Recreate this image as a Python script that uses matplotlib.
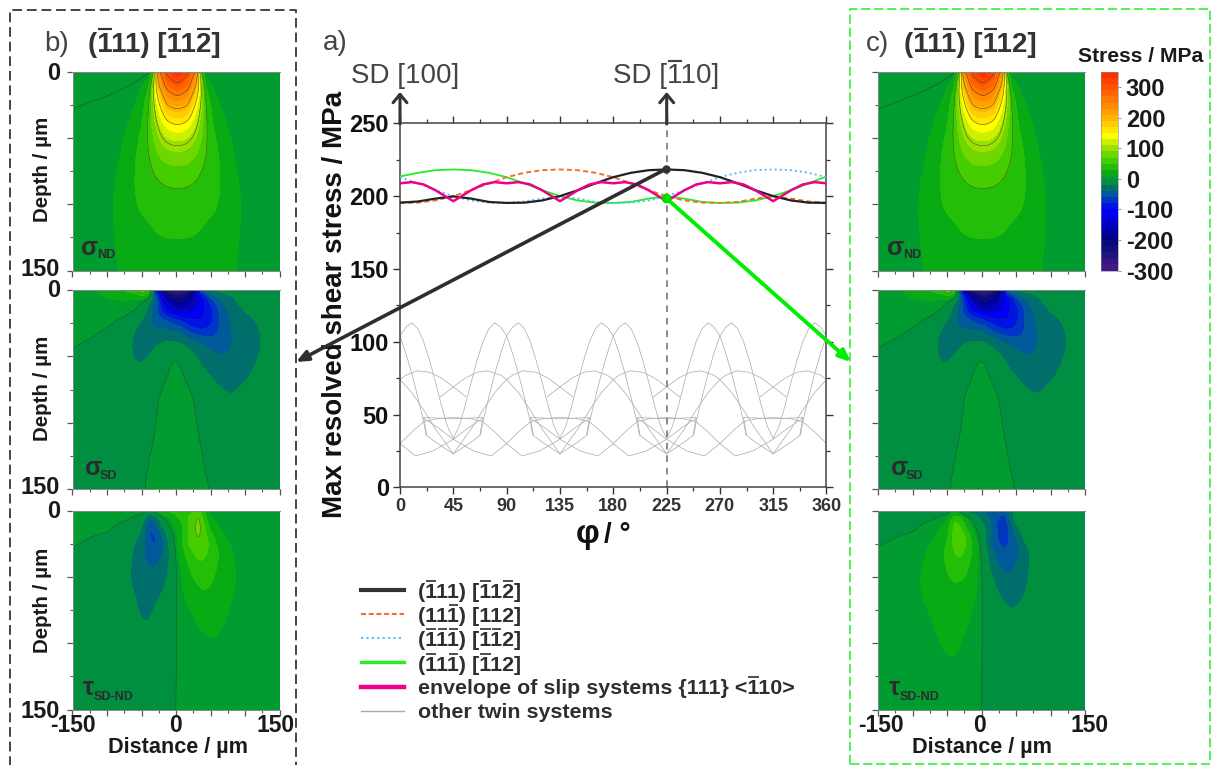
import numpy as np
import matplotlib
matplotlib.use('Agg')
import matplotlib.pyplot as plt
from matplotlib.colors import LinearSegmentedColormap, BoundaryNorm, ListedColormap
from matplotlib.patches import FancyArrowPatch
from matplotlib.lines import Line2D
from matplotlib.ticker import MultipleLocator, NullFormatter

plt.rcParams['font.family'] = ['Liberation Sans', 'DejaVu Sans']

W, H = 1211, 765

# ---------- central chart data ----------
phi = [0, 15, 30, 45, 60, 75, 90, 105, 120, 135, 150, 165, 180, 195, 210, 225, 240, 255, 270, 285, 300, 315, 330, 345, 360]
sys_black = [195.5, 196.3, 198.3, 199.8, 198.3, 196, 195.3, 195.5, 197, 200, 204, 208.8, 213, 216, 217.8, 218.3, 217.8, 216, 213, 208.8, 204, 200, 197, 195.5, 195.3]
sys_orange = [195.3, 195.5, 197, 200, 204, 208.8, 213, 216, 217.8, 218.3, 217.8, 216, 213, 208.8, 204, 200, 197, 195.5, 195.3, 196, 198.3, 199.8, 198.3, 196.3, 195.5]
sys_blue = [213, 208.8, 204, 200, 197, 195.5, 195.3, 196.3, 198.3, 199.8, 198.3, 196, 195.3, 195.5, 197, 200, 204, 208.8, 213, 216, 217.8, 218.3, 217.8, 216, 213]
sys_green = [213.5, 216, 217.8, 218.3, 217.8, 216, 213, 208.8, 204, 200, 197, 195.5, 195.3, 196, 198.3, 199.8, 198.3, 196, 195.3, 195.5, 197, 200, 204, 208.8, 213.5]

phi_env = [0, 10, 20, 30, 45, 60, 70, 80, 90, 100, 110, 120, 135, 150, 160, 170, 180, 190, 200, 210, 225, 240, 250, 260, 270, 280, 290, 300, 315, 330, 340, 350, 360]
envelope = [208.8, 209.6, 208, 204, 196.5, 204, 208, 209.6, 208.8, 209.6, 208, 204, 196.5, 204, 208, 209.6, 208.8, 209.6, 208, 204, 196.5, 204, 208, 209.6, 208.8, 209.6, 208, 204, 196.5, 204, 208, 209.6, 208.8]

# other twin systems: one repeating 90-degree window of the grey pattern
tile_offsets = [-90, 0, 90, 180, 270]
lobe_a_phi = [45, 50, 55, 60, 65, 70, 75, 80, 85, 90, 95, 100, 105, 110, 112, 120, 135]
lobe_a_val = [33.6, 42, 56, 72, 87, 100, 109, 113, 110, 104, 92, 78, 62, 45, 36, 31, 23]
lobe_b_phi = [45, 60, 68, 70, 75, 80, 85, 90, 95, 100, 105, 110, 115, 120, 125, 130, 135]
lobe_b_val = [23, 31, 36, 45, 62, 78, 92, 104, 110, 113, 109, 100, 87, 72, 56, 42, 33.6]
arch_c_phi = [34, 45, 55, 65, 74, 85, 90, 100, 110, 120, 128, 135]
arch_c_val = [62, 69, 75, 79, 80, 77, 74, 65, 53, 40, 31, 23]
arch_d_phi = [45, 52, 60, 70, 80, 90, 95, 104, 115, 125, 135, 146]
arch_d_val = [23, 31, 40, 53, 65, 74, 77, 80, 79, 75, 69, 62]
low_phi = [-70, -58, -45, -28, -13, 0, 10, 20, 30, 45, 60, 70, 80, 90, 103, 118, 135, 148, 160]
low_val = [47.5, 41, 33, 25, 21.5, 30, 38, 45, 47, 48, 47, 45, 38, 30, 21.5, 25, 33, 41, 47.5]
flat_phi = [22.5, 20, 45, 70, 67.5]
flat_val = [36, 48, 47, 48, 36]

# ---------- stress maps (MPa): rows = depth, columns = distance ----------
nd_x = [-150, -100, -73, -53, -40, -34, -26, -13, 2, 17, 30, 38, 44, 57, 77, 102, 150]
nd_d = [0, 4, 9, 15, 20, 30, 40, 55, 70, 87, 105, 125, 150]
sigma_nd = [
    [3, 3, 3, 3, 3, 20, 240, 310, 345, 310, 240, 20, 3, 3, 3, 3, 3],
    [3, 3, 3, 4, 5, 50, 215, 295, 325, 295, 215, 50, 5, 4, 3, 3, 3],
    [3, 3, 3, 5, 15, 70, 200, 275, 298, 275, 200, 70, 15, 5, 3, 3, 3],
    [3, 3, 4, 7.5, 28, 85, 175, 245, 268, 245, 175, 85, 28, 7.5, 4, 3, 3],
    [3, 3, 4.5, 10, 38, 85, 155, 225, 242, 225, 155, 85, 38, 10, 4.5, 3, 3],
    [3, 3, 5.5, 14, 46, 80, 125, 180, 190, 180, 125, 80, 46, 14, 5.5, 3, 3],
    [3, 3, 7, 22, 50, 72, 105, 140, 150, 140, 105, 72, 50, 22, 7, 3, 3],
    [3, 4, 10.5, 33, 50, 62, 80, 96, 100, 96, 80, 62, 50, 33, 10.5, 4, 3],
    [3, 5, 13, 38, 46, 52, 60, 68, 70, 68, 60, 52, 46, 38, 13, 5, 3],
    [3, 6, 16, 38, 40, 42, 46, 49, 50, 49, 46, 42, 40, 38, 16, 6, 3],
    [3, 6, 18, 31, 33, 34, 36, 38, 39, 38, 36, 34, 33, 31, 18, 6, 3],
    [3, 6, 15.5, 22, 25, 28, 29, 30, 30, 30, 29, 28, 25, 22, 15.5, 6, 3],
    [3, 6, 12.5, 17, 19, 21, 22, 22, 22, 22, 22, 21, 19, 17, 12.5, 6, 3],
]
nd_line_x = [-150, -95, -61, -37]
nd_line_d = [28, 17, 8.5, 0]

sd_x = [-150, -115, -95, -73, -57, -47, -38, -28, -13, 2, 17, 30, 38, 50, 62, 80, 100, 117, 150]
sd_d = [0, 5, 10, 15, 22, 30, 38, 48, 60, 70, 80, 100, 125, 150]
sigma_sd = [
    [5, 10, 20, 35, 55, 90, 30, -120, -270, -300, -270, -150, -30, -15, -12, -8, -5, -4, -3],
    [4, 7, 12, 14, 12, 20, 2, -60, -190, -240, -210, -150, -110, -55, -35, -22, -12, -8, -4],
    [3, 5, 6, 7, 3, -8, -25, -50, -140, -190, -170, -135, -115, -80, -50, -24, -15, -10, -6],
    [2.5, 4, 4, 3, 0, -12, -30, -60, -110, -150, -140, -120, -105, -90, -62, -32, -18, -12, -7],
    [2.5, 2, 1.5, -1, -8, -22, -38, -50, -60, -75, -95, -103, -103, -90, -60, -38, -26, -19, -8],
    [2, 0.7, -0.5, -8, -24, -38, -41, -38, -38, -42, -65, -82, -85, -78, -60, -40, -30, -22, -8],
    [1, -0.5, -4, -14, -26, -30, -30, -23, -20, -20, -28, -36, -42, -52, -58, -41, -30, -23, -9],
    [-0.5, -3, -6, -16, -24, -24, -20, -13, -2, 3, -10, -20, -25, -33, -38, -40, -30, -22, -10],
    [-2, -4, -7, -13, -19, -17, -13, -8, -0.5, 3, -4, -15, -20, -24, -32, -36, -28, -17, -9],
    [-2, -4, -7, -10, -12, -10, -7, -2, 1, 4, 0.5, -4, -8, -15, -21, -24, -18, -13, -8],
    [-2, -4, -6, -8, -10, -8, -5, -0.5, 3, 5, 2, -1, -5, -11, -16, -20, -15, -11, -7],
    [-2, -3, -5, -6, -7, -5, -3, 0.5, 4, 6, 4, 0, -2.5, -7, -10, -12, -10, -8, -5],
    [-2, -3, -4, -5, -5, -2, 0.2, 2, 5, 7, 5, 2.5, 0.2, -3, -6, -8, -7, -6, -4],
    [-2, -3, -4, -4, -2, 0, 1.5, 3, 5, 7, 5, 3, 2, 0, -2, -5, -5, -5, -4],
]

tau_x = [-150, -95, -68, -50, -38, -30, -20, -10, 0, 8, 15, 25, 33, 42, 50, 62, 75, 87, 110, 150]
tau_d = [0, 6, 12, 18, 25, 32, 42, 52, 62, 72, 82, 95, 120, 150]
tau_sd_nd = [
    [3, 4, 5, 6, 0, 15, 30, 35, 40, 45, 45, 45, 45, 30, 8, 5, 4, 4, 4, 3],
    [3, 2, 0.5, -5, -45, -35, -5, 5, 25, 35, 45, 62, 75, 35, 9, 6, 5, 4, 3, 3],
    [2, 0.8, -3, -18, -65, -50, -18, 0, 12, 25, 45, 68, 82, 50, 22, 8, 6, 5, 3, 2],
    [1.5, -0.5, -7, -22, -65, -65, -42, -8, 5, 22, 42, 65, 78, 55, 35, 13, 7, 5, 3, 2],
    [0.8, -3, -12, -30, -62, -65, -52, -18, 3, 28, 50, 62, 68, 60, 50, 22, 10, 6, 3, 2],
    [-1, -4, -15, -37, -52, -58, -42, -22, 2, 18, 35, 50, 55, 53, 46, 33, 14, 8, 4, 2],
    [-2, -6, -18, -30, -42, -43, -30, -22, 1, 12, 25, 40, 50, 48, 38, 27, 14, 9, 4, 2],
    [-2, -7, -20, -27, -32, -30, -26, -19, 0.5, 9, 17, 28, 35, 36, 33, 24, 14, 10, 4, 2],
    [-2, -7, -17, -25, -26, -24, -20, -14, 0.3, 7, 12, 20, 27, 30, 28, 21, 13, 9, 4, 2],
    [-2, -6, -13, -24, -24, -20, -15, -9, 0.2, 5, 8, 13, 18, 21, 20, 17, 11, 7, 3, 2],
    [-2, -5, -10, -22, -22, -16, -11, -6, 0.2, 3, 5, 8, 12, 15, 15, 13, 9, 5, 3, 2],
    [-2, -4, -8, -14, -15, -11, -7, -4, 0.2, 2, 3, 5, 7, 9, 10.5, 9, 7, 4, 2, 1.5],
    [-1.5, -3, -5, -7, -7, -6, -4, -2, 0.2, 1, 2, 3, 4, 5, 5, 5, 4, 3, 2, 1],
    [-1, -2, -3, -4, -4, -3, -2, -1, 0.2, 0.7, 1, 1.5, 2, 2.5, 3, 3, 2.5, 2, 1.5, 1],
]

cbar_ticks = [300, 200, 100, 0, -100, -200, -300]
levels = list(range(-300, 1, 20)) + list(range(10, 371, 20))

cmap_stops = [(-300, '#4b1a8c'), (-230, '#101078'), (-190, '#000088'), (-110, '#0000f5'), (-85, '#0018e0'), (-65, '#0040c0'),
              (-50, '#005a9a'), (-30, '#006f6c'), (-10, '#008f40'), (5, '#009c30'), (20, '#08ab14'),
              (50, '#30c800'), (100, '#9be000'), (140, '#ffff00'), (200, '#ffb400'), (280, '#ff6400'), (370, '#ff1400')]
vmin, vmax = cmap_stops[0][0], cmap_stops[-1][0]
ramp = LinearSegmentedColormap.from_list('stress', [((v - vmin) / (vmax - vmin), c) for v, c in cmap_stops], N=1024)
band_mids = [(a + b) / 2 for a, b in zip(levels[:-1], levels[1:])]
cmap = ListedColormap([ramp((m - vmin) / (vmax - vmin)) for m in band_mids])
norm = BoundaryNorm(levels, cmap.N)

fig = plt.figure(figsize=(W / 100, H / 100), dpi=100, facecolor='white')


def axes_px(x0, y0, x1, y1, **kw):
    return fig.add_axes([x0 / W, 1 - y1 / H, (x1 - x0) / W, (y1 - y0) / H], **kw)


GREY = '#555555'
GX = np.linspace(-150, 150, 301)
GD = np.linspace(0, 150, 151)


def blur(z, sigma):
    r = int(4 * sigma)
    k = np.exp(-0.5 * (np.arange(-r, r + 1) / sigma) ** 2)
    k /= k.sum()
    z = np.pad(z, r, mode='reflect')
    z = np.apply_along_axis(lambda v: np.convolve(v, k, mode='same'), 0, z)
    z = np.apply_along_axis(lambda v: np.convolve(v, k, mode='same'), 1, z)
    return z[r:-r, r:-r]


def render_grid(xs, ds, field):
    t = np.asarray(field, float)
    rows = np.array([np.interp(GX, xs, row) for row in t])
    z = np.array([np.interp(GD, ds, col) for col in rows.T]).T
    w = np.clip(GD / 45.0, 0, 1)[:, None]
    return (1 - w) * blur(z, 1.2) + w * blur(z, 6.0)


def draw_map(box, xs, ds, field, lines, extra_line=None):
    ax = axes_px(*box)
    z = render_grid(xs, ds, field)
    ax.contourf(GX, GD, z, levels=levels, cmap=cmap, norm=norm, extend='both', antialiased=False)
    ax.contour(GX, GD, z, levels=sorted(lines), colors='#333333', linewidths=0.45, alpha=0.7)
    if extra_line is not None:
        ax.plot(extra_line[0], extra_line[1], color='#333333', lw=0.45, alpha=0.7)
    ax.set_xlim(-150, 150)
    ax.set_ylim(150, 0)
    ax.xaxis.set_major_locator(MultipleLocator(50))
    ax.xaxis.set_minor_locator(MultipleLocator(25))
    ax.yaxis.set_major_locator(MultipleLocator(50))
    ax.yaxis.set_minor_locator(MultipleLocator(25))
    ax.tick_params(which='major', direction='out', length=4, width=0.9, color=GREY)
    ax.tick_params(which='minor', direction='out', length=2.5, width=0.8, color=GREY)
    for s in ax.spines.values():
        s.set_linewidth(0.7)
        s.set_color('#888888')
    ax.spines['right'].set_visible(False)
    ax.xaxis.set_major_formatter(NullFormatter())
    ax.yaxis.set_major_formatter(NullFormatter())
    return ax


panel_rows = [(72, 270.5), (290, 489), (510.5, 709.5)]
for left, right, sign in [(72.5, 279.5, 1), (878, 1085, -1)]:
    draw_map((left, panel_rows[0][0], right, panel_rows[0][1]), nd_x, nd_d, sigma_nd,
             [50, 100, 150, 200, 250, 300], extra_line=(nd_line_x, nd_line_d))
    draw_map((left, panel_rows[1][0], right, panel_rows[1][1]), sd_x, sd_d, sigma_sd,
             [-250, -200, -150, -100, 0, 50])
    draw_map((left, panel_rows[2][0], right, panel_rows[2][1]), tau_x, tau_d,
             sign * np.asarray(tau_sd_nd, float), [-70 if sign < 0 else 70, 0])

# ---------- colour bar ----------
cax = axes_px(1100.5, 72, 1117.5, 270.5)
sm = plt.cm.ScalarMappable(norm=norm, cmap=cmap)
cb = fig.colorbar(sm, cax=cax, spacing='proportional', drawedges=False, extend='neither')
cb.set_ticks(cbar_ticks)
cb.set_ticklabels([str(t) for t in cbar_ticks])
cb.minorticks_off()
cax.set_ylim(-300, 350)
cax.tick_params(length=2, width=0.6, color='#888888', pad=4)
for lab in cax.get_yticklabels():
    lab.set_fontweight('bold')
    lab.set_fontsize(17)
    lab.set_color('#1a1a1a')
cb.outline.set_linewidth(0.4)
cb.outline.set_edgecolor('#888888')

# ---------- central chart ----------
ax = axes_px(400, 123.3, 826.5, 487.3)
ax.set_xlim(0, 360)
ax.set_ylim(0, 250)
grey_kw = dict(color='#b0b0b0', lw=0.55, zorder=1)
for off in tile_offsets:
    for px, vals in [(lobe_a_phi, lobe_a_val), (lobe_b_phi, lobe_b_val), (arch_c_phi, arch_c_val),
                     (arch_d_phi, arch_d_val), (low_phi, low_val), (flat_phi, flat_val)]:
        ax.plot(np.asarray(px) + off, vals, **grey_kw)
ax.axvline(225, color='#777777', lw=1.2, ls=(0, (4, 3.5)), zorder=2)
ax.plot(phi, sys_green, color='#22ee22', lw=1.3, zorder=3)
ax.plot(phi, sys_blue, color='#55bbff', lw=1.4, ls=(0, (1, 1.6)), zorder=3)
ax.plot(phi, sys_orange, color='#f07030', lw=1.4, ls=(0, (2.6, 1.6)), zorder=3)
ax.plot(phi, sys_black, color='#222222', lw=1.6, zorder=4)
ax.plot(phi_env, envelope, color='#ee0088', lw=1.8, zorder=5)
ax.xaxis.set_major_locator(MultipleLocator(45))
ax.xaxis.set_minor_locator(MultipleLocator(22.5))
ax.yaxis.set_major_locator(MultipleLocator(50))
ax.yaxis.set_minor_locator(MultipleLocator(25))
ax.tick_params(which='major', direction='out', length=5, width=1, color='#333333', top=True, right=True, pad=3)
ax.tick_params(which='minor', direction='out', length=3, width=0.9, color='#333333', top=True, right=True)
for s in ax.spines.values():
    s.set_linewidth(1.1)
    s.set_color('#444444')
for lab in ax.get_xticklabels():
    lab.set_fontsize(13)
    lab.set_color('#333333')
    lab.set_fontweight('bold')
for lab in ax.get_yticklabels():
    lab.set_fontsize(17)
    lab.set_fontweight('bold')
    lab.set_color('#111111')

# ---------- overlay in reference pixels ----------
ov = fig.add_axes([0, 0, 1, 1], zorder=20)
ov.set_xlim(0, W)
ov.set_ylim(H, 0)
ov.axis('off')
ov.patch.set_alpha(0)
renderer = fig.canvas.get_renderer()


def T(x, y, s, size, bold=True, color='#1a1a1a', ha='left', va='center', rot=0):
    return ov.text(x, y, s, fontsize=size, fontweight='bold' if bold else 'normal', color=color,
                   ha=ha, va=va, rotation=rot)


def bar_text(x, base, s, bars, size, bold=True, color='#2e2e2e', gap=2.5):
    """Text on a baseline with crystallographic overbars above the characters at the given indices."""
    T(x, base, s, size, bold=bold, color=color, va='baseline')

    def width(sub):
        if not sub:
            return 0.0
        t = T(0, 0, sub + '|', size, bold=bold)
        w = t.get_window_extent(renderer).width
        t.set_text('|')
        w -= t.get_window_extent(renderer).width
        t.remove()
        return w

    top = base - size / 0.72 * 0.716 - gap
    for i in bars:
        a, b = width(s[:i]), width(s[:i + 1])
        ov.add_line(Line2D([x + a + 0.06 * (b - a), x + a + 0.94 * (b - a)], [top, top],
                           color=color, lw=size / 13, solid_capstyle='butt'))


# dashed frames (open at the bottom, as cropped)
ov.plot([9.5, 9.5, 296, 296], [H + 5, 10, 10, H + 5], color='#444444', lw=1.4, ls=(0, (5, 2.5)))
ov.plot([850, 850, 1210, 1210, 850], [764, 9, 9, 764, 764], color='#22ee22', lw=1.1, ls=(0, (6, 2.5)))

# headings
T(44, 44, 'b)', 20, bold=False, color='#444444')
bar_text(88, 52, '(111) [112]', [1, 7, 9], 20, color='#333333', gap=3)
T(323, 43, 'a)', 20, bold=False, color='#444444')
T(866, 44, 'c)', 20, bold=False, color='#444444')
bar_text(904, 52, '(111) [112]', [1, 3, 7], 20, color='#333333', gap=3)
T(1078, 56, 'Stress / MPa', 15.2, color='#1a1a1a')
T(351, 83, 'SD [100]', 20, bold=False, color='#444444', va='baseline')
bar_text(613, 83, 'SD [110]', [4], 20, bold=False, color='#444444', gap=2)

# panel axis labels
for yc, y0, y1 in [(169, 73, 269), (388, 290, 487), (600, 512, 711)]:
    T(43, yc, 'Depth / µm', 14.8, ha='center', rot=90)
    T(60, y0, '0', 17, ha='right')
    T(60, y1, '150', 17, ha='right')
for x0, xm, x1 in [(73, 176, 276), (881, 980, 1090)]:
    T(x0, 725, '-150', 16.5, ha='center')
    T(xm, 725, '0', 16.5, ha='center')
    T(x1, 725, '150', 16.5, ha='center')
    T(xm + 2, 747, 'Distance / µm', 15.6, ha='center')

# stress component tags
for dx in (0, 806):
    T(81 + dx, 248, 'σ', 18, color='#2b2b2b')
    T(97 + dx, 255, 'ND', 9, color='#2b2b2b')
    T(85 + dx, 468, 'σ', 18, color='#2b2b2b')
    T(100 + dx, 476, 'SD', 9, color='#2b2b2b')
    T(83 + dx, 688, 'τ', 18, color='#2b2b2b')
    T(94 + dx, 697, 'SD-ND', 9, color='#2b2b2b')

# axis titles of the central chart
T(335, 304, 'Max resolved shear stress / MPa', 20, ha='center', rot=90, color='#111111')
T(576, 534, 'φ', 24, color='#111111')
T(604, 535, '/ °', 20, color='#111111')

# direction arrows
for xa in (400, 666.7):
    ov.add_patch(FancyArrowPatch((xa, 124), (xa, 92), arrowstyle='->,head_length=6,head_width=5',
                                 color='#333333', lw=2.2, mutation_scale=1, shrinkA=0, shrinkB=0, zorder=8))

# pointers to the side panels
ov.add_patch(FancyArrowPatch((666, 169), (296, 362), arrowstyle='-|>,head_length=7,head_width=3',
                             color='#2e2e2e', lw=2.6, mutation_scale=1, shrinkA=0, shrinkB=0, zorder=8))
ov.add_patch(FancyArrowPatch((666, 198), (851, 362), arrowstyle='-|>,head_length=7,head_width=3',
                             color='#00ee00', lw=2.8, mutation_scale=1, shrinkA=0, shrinkB=0, zorder=8))
ov.plot([666], [169], 'o', ms=5, color='#333333', zorder=9)
ov.plot([666], [198], 'o', ms=6, color='#00dd00', zorder=9)

# legend
legend_rows = [
    (590, 598.5, '(111) [112]', [1, 7, 9], dict(color='#333333', lw=3)),
    (614, 622.5, '(111) [112]', [3], dict(color='#f07030', lw=1.5, ls=(0, (2.4, 1.3)))),
    (638, 646.5, '(111) [112]', [1, 2, 3, 7, 8], dict(color='#55bbff', lw=1.5, ls=(0, (1, 1.6)))),
    (662, 671, '(111) [112]', [1, 3, 7], dict(color='#22ee22', lw=2.4)),
    (687, 694.5, 'envelope of slip systems {111} <110>', [32], dict(color='#ee0088', lw=3.2)),
    (711, 717.5, 'other twin systems', [], dict(color='#a8a8a8', lw=1)),
]
for yy, base, label, bars, kw in legend_rows:
    ov.add_line(Line2D([361, 404], [yy, yy], **kw))
    bar_text(418, base, label, bars, 15.4, color='#2e2e2e', gap=2)

fig.savefig('out.png', dpi=100, facecolor='white')
